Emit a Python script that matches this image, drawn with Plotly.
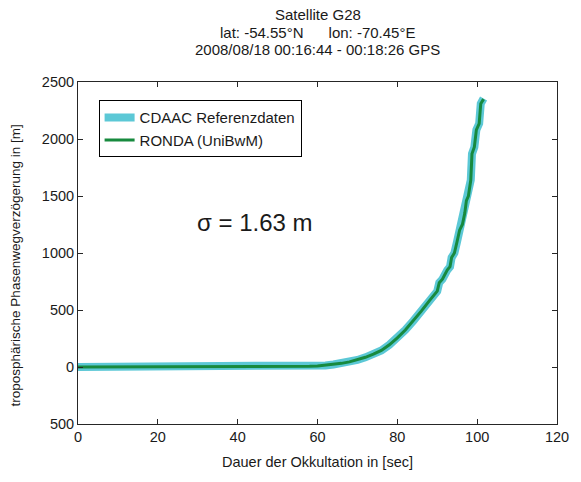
import plotly.graph_objects as go

# --- data ---
t_sec = [0, 10, 20, 30, 40, 50, 55, 58, 60, 62, 64, 66, 68, 70, 72, 74, 76, 78, 80, 82, 84, 86, 88, 89, 90,
         90.5, 91.3, 92.5, 93.2, 93.6, 94.3, 94.9, 95.6, 96.3, 96.9, 97.3, 97.8, 98.4, 98.7, 99.3, 99.8,
         100.5, 100.9, 101.6]
cdaac = [0, 0, 0, 0, 1, 2, 4, 6, 8, 14, 22, 32, 45, 62, 85, 112, 145, 195, 255, 325, 405, 490, 580, 620, 665,
         740, 770, 850, 880, 960, 1000, 1090, 1200, 1250, 1350, 1460, 1500, 1640, 1870, 1930, 2080,
         2135, 2310, 2355]
ronda = [0, 0, 0, 0, 1, 2, 4, 6, 8, 14, 22, 32, 45, 62, 85, 112, 145, 195, 255, 325, 405, 490, 580, 620, 665,
         740, 770, 850, 880, 960, 1000, 1090, 1200, 1250, 1350, 1460, 1500, 1640, 1870, 1930, 2080,
         2135, 2310, 2350]
x_ticks = [0, 20, 40, 60, 80, 100, 120]
y_ticks = [-500, 0, 500, 1000, 1500, 2000, 2500]
y_tick_labels = ["500", "0", "500", "1000", "1500", "2000", "2500"]
title_lines = ["Satellite G28",
               "lat: -54.55°N\u00a0\u00a0\u00a0\u00a0\u00a0\u00a0lon: -70.45°E",
               "2008/08/18 00:16:44 - 00:18:26 GPS"]
y_title = "troposphärische Phasenwegverzögerung in [m]"

FONT = "Liberation Sans, Arial, sans-serif"
AX = "#262626"
TXT = "#1a1a1a"
PLOT_H = 482 - 82 - 58

fig = go.Figure()
fig.add_trace(go.Scatter(x=t_sec, y=cdaac, mode="lines", name="CDAAC Referenzdaten",
                         line=dict(color="#5CC8D6", width=8)))
fig.add_trace(go.Scatter(x=t_sec, y=ronda, mode="lines", name="RONDA (UniBwM)",
                         line=dict(color="#178A3E", width=3)))

axis_common = dict(showgrid=False, zeroline=False, showline=True, linecolor=AX, linewidth=1,
                   mirror="ticks", ticks="inside", ticklen=5, tickcolor=AX,
                   tickfont=dict(family=FONT, size=14.5, color=TXT))

fig.update_layout(
    width=581, height=482,
    margin=dict(l=78, r=13, t=82, b=58),
    paper_bgcolor="white", plot_bgcolor="white",
    font=dict(family=FONT, size=14, color=TXT),
    xaxis=dict(range=[0, 120], tickvals=x_ticks,
               title=dict(text="Dauer der Okkultation in [sec]", standoff=12,
                          font=dict(family=FONT, size=14.5)),
               **axis_common),
    yaxis=dict(range=[-500, 2500], tickvals=y_ticks, ticktext=y_tick_labels,
               **axis_common),
    legend=dict(x=0.043, y=0.947, xanchor="left", yanchor="top",
                bordercolor="black", borderwidth=1, bgcolor="white",
                font=dict(family=FONT, size=15, color=TXT),
                tracegroupgap=0, itemwidth=30),
    showlegend=True,
)

for line, yp in zip(title_lines, [1.196, 1.145, 1.094]):
    fig.add_annotation(text=line, x=0.5, y=yp, xref="paper", yref="paper",
                       xanchor="center", yanchor="middle", showarrow=False,
                       font=dict(family=FONT, size=15, color=TXT))

fig.add_annotation(text=y_title, x=-78 / 490 + 14 / 490, y=(424 - 265) / PLOT_H,
                   xref="paper", yref="paper", textangle=-90,
                   xanchor="center", yanchor="middle", showarrow=False,
                   font=dict(family=FONT, size=13.5, color=TXT))

fig.add_annotation(text="σ = 1.63 m", x=0.37, y=0.59, xref="paper", yref="paper",
                   showarrow=False, font=dict(family=FONT, size=24, color=TXT))

fig.write_html("out.html")
